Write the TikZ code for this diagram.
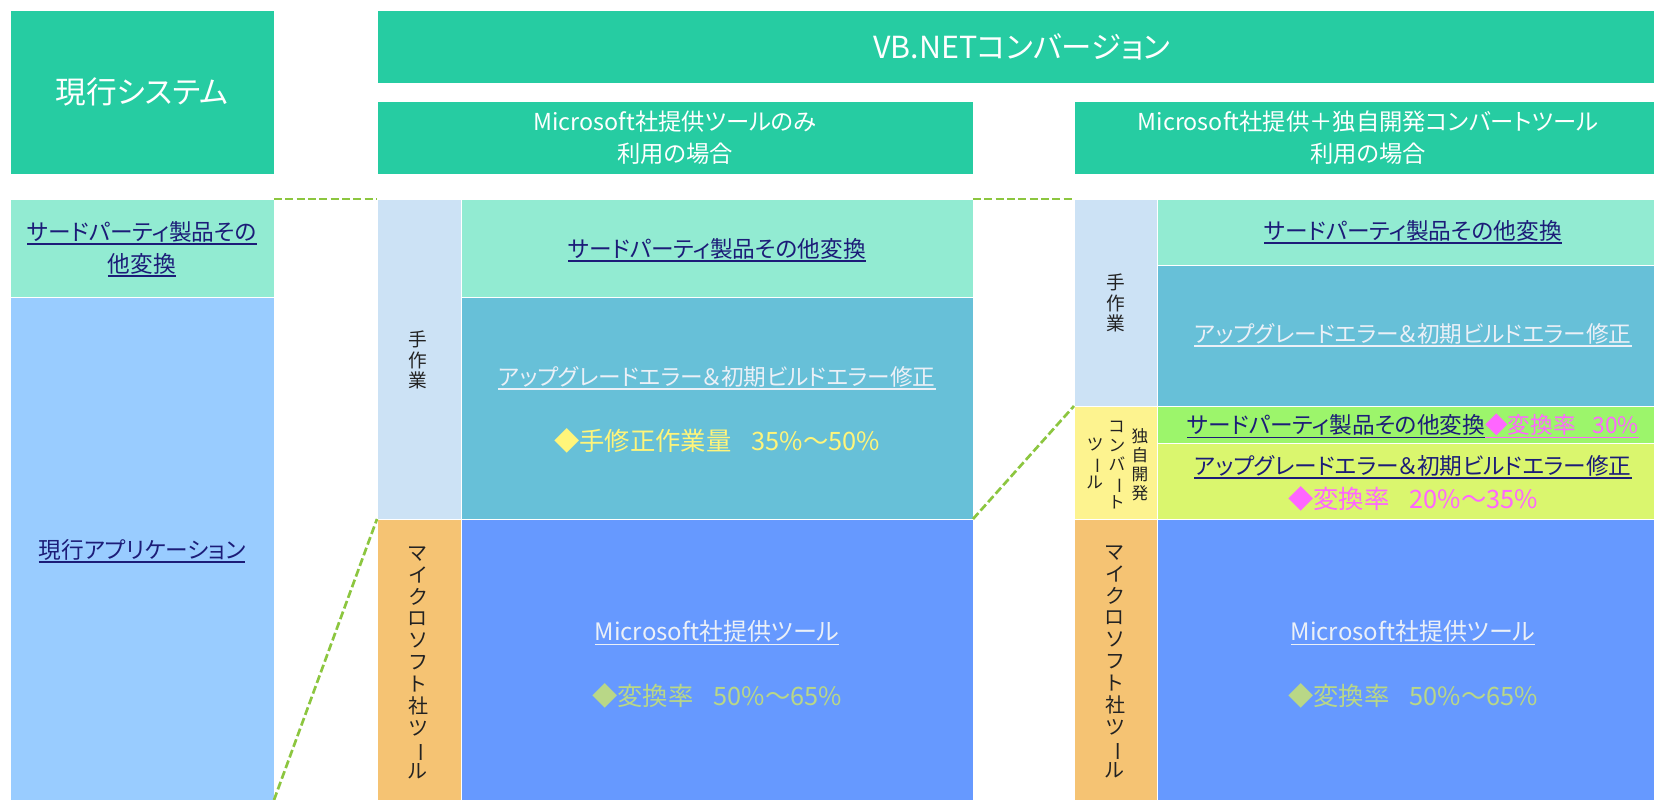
\documentclass[tikz,border=0pt]{standalone}
\usepackage{fontspec}
\setmainfont{Noto Sans CJK JP}[RawFeature=+palt]
\definecolor{hdr}{HTML}{26CCA2}
\definecolor{tpc}{HTML}{92EBD2}
\definecolor{curc}{HTML}{99CCFF}
\definecolor{handc}{HTML}{CCE2F5}
\definecolor{upc}{HTML}{67C0D8}
\definecolor{msc}{HTML}{6699FF}
\definecolor{orc}{HTML}{F5C373}
\definecolor{ownc}{HTML}{FDF38F}
\definecolor{grc}{HTML}{9CF56B}
\definecolor{ygc}{HTML}{DAF66E}
\definecolor{navy}{HTML}{1C1C78}
\definecolor{lite}{HTML}{EBF0F7}
\definecolor{yelt}{HTML}{FFF57A}
\definecolor{pgt}{HTML}{B9D787}
\definecolor{pinkc}{HTML}{FF66FF}
\definecolor{dashc}{HTML}{8CC63F}
\definecolor{sidet}{HTML}{222222}
\newcommand{\ul}[1]{\setbox0\hbox{#1}\leavevmode\rlap{\rule[-0.2em]{\wd0}{0.06em}}\box0}
\newcommand{\vbar}{\rotatebox[origin=c]{-90}{ー}}
\newcommand{\blkbox}[6]{\node[blk,fill=#6,minimum width={(#4-#2)*0.75pt},minimum height={(#5-#3)*0.75pt},anchor=north west] (#1) at (#2,#3) {};}
\begin{document}
\begin{tikzpicture}[x=0.75pt,y=-0.75pt,
  blk/.style={draw=white,line width=0.6pt,inner sep=0pt,outer sep=0pt},
  txt/.style={inner sep=0pt,align=center,font=\fontsize{17}{24}\selectfont},
  pct/.style={inner sep=0pt,align=center,font=\fontsize{19}{24}\selectfont},
  msf/.style={inner sep=0pt,align=center,font=\fontsize{18}{24}\selectfont},
  big/.style={inner sep=0pt,align=center,font=\fontsize{23}{28}\selectfont,text=white},
  vt/.style={inner sep=0pt,align=center,text=sidet,font=\fontsize{14}{15.5}\selectfont},
  vtm/.style={inner sep=0pt,align=center,text=sidet,font=\fontsize{15}{16.4}\selectfont},
  vts/.style={inner sep=0pt,align=center,text=sidet,font=\fontsize{12.5}{14.2}\selectfont},
  link/.style={draw=dashc,line width=2pt,dash pattern=on 6pt off 2.5pt}]
\fill[white] (0,0) rectangle (1654,800);
\useasboundingbox (0,0) rectangle (1654,800);
% headers
\blkbox{cur}{10}{10}{274}{174}{hdr}
\blkbox{vb}{377}{10}{1654}{83}{hdr}
\blkbox{subL}{377}{101}{973}{174}{hdr}
\blkbox{subR}{1074}{101}{1654}{174}{hdr}
\node[big] (curT) at (142,92) {現行システム};
\node[big,font=\fontsize{22.8}{26}\selectfont] (vbT) at (1022,47) {VB.NETコンバージョン};
\node[txt,text=white,font=\fontsize{17.5}{24}\selectfont] (subLT) at (675,138) {Microsoft社提供ツールのみ\\利用の場合};
\node[txt,text=white,font=\fontsize{17.5}{24}\selectfont] (subRT) at (1368,138) {Microsoft社提供＋独自開発コンバートツール\\利用の場合};
% left column
\blkbox{cur3p}{10}{199}{274}{297}{tpc}
\blkbox{curApp}{10}{297}{274}{800}{curc}
\node[txt,text=navy] (cur3pT) at (142,249) {\ul{サードパーティ製品その}\\\ul{他変換}};
\node[txt,text=navy] (curAppT) at (142,551) {\ul{現行アプリケーション}};
% middle column
\blkbox{mHand}{377}{199}{461}{519}{handc}
\blkbox{m3p}{461}{199}{973}{297}{tpc}
\blkbox{mUp}{461}{297}{973}{519}{upc}
\blkbox{mMs}{377}{519}{461}{800}{orc}
\blkbox{mMsB}{461}{519}{973}{800}{msc}
\node[vt] (mHandT) at (418,360) {手\\作\\業};
\node[vtm] (mMsT) at (418,663) {マ\\イ\\ク\\ロ\\ソ\\フ\\ト\\社\\ツ\\\vbar\\ル};
\node[txt,text=navy] (m3pT) at (717,250) {\ul{サードパーティ製品その他変換}};
\node[txt,text=lite] (mUpT) at (717,378) {\ul{アップグレードエラー＆初期ビルドエラー修正}};
\node[pct,text=yelt] (mUpP) at (717,441) {◆手修正作業量\hspace{0.8em}35\%～50\%};
\node[msf,text=lite] (mMsBT) at (717,633) {\ul{Microsoft社提供ツール}};
\node[pct,text=pgt] (mMsBP) at (717,696) {◆変換率\hspace{0.8em}50\%～65\%};
% right column
\blkbox{rHand}{1074}{199}{1157}{406}{handc}
\blkbox{r3p}{1157}{199}{1654}{265}{tpc}
\blkbox{rUp}{1157}{265}{1654}{406}{upc}
\blkbox{rOwn}{1074}{406}{1157}{519}{ownc}
\blkbox{rG}{1157}{406}{1654}{443}{grc}
\blkbox{rYG}{1157}{443}{1654}{519}{ygc}
\blkbox{rMs}{1074}{519}{1157}{800}{orc}
\blkbox{rMsB}{1157}{519}{1654}{800}{msc}
\node[vt] (rHandT) at (1116,303) {手\\作\\業};
\node[vts] (rOwnA) at (1140,465) {独\\自\\開\\発};
\node[vts] (rOwnB) at (1117,465) {コ\\ン\\バ\\\vbar\\ト};
\node[vts] (rOwnC) at (1095,463) {ツ\\\vbar\\ル};
\node[vtm] (rMsT) at (1115,662) {マ\\イ\\ク\\ロ\\ソ\\フ\\ト\\社\\ツ\\\vbar\\ル};
\node[txt,text=navy] (r3pT) at (1413,232) {\ul{サードパーティ製品その他変換}};
\node[txt,text=lite] (rUpT) at (1413,335) {\ul{アップグレードエラー＆初期ビルドエラー修正}};
\node[txt,text=navy] (rGT) at (1413,426) {\ul{サードパーティ製品その他変換}\textcolor{pinkc}{\ul{◆変換率\hspace{0.75em}30\%}}};
\node[txt,text=navy] (rYGT) at (1413,467) {\ul{アップグレードエラー＆初期ビルドエラー修正}};
\node[pct,text=pinkc] (rYGP) at (1413,499) {◆変換率\hspace{0.8em}20\%～35\%};
\node[msf,text=lite] (rMsBT) at (1413,633) {\ul{Microsoft社提供ツール}};
\node[pct,text=pgt] (rMsBP) at (1413,696) {◆変換率\hspace{0.8em}50\%～65\%};
% dashed links
\draw[link] (cur3p.north east) -- (mHand.north west);
\draw[link] (curApp.south east) -- (mMs.north west);
\draw[link] (m3p.north east) -- (rHand.north west);
\draw[link] (mMsB.north east) -- (rOwn.north west);
\end{tikzpicture}
\end{document}
